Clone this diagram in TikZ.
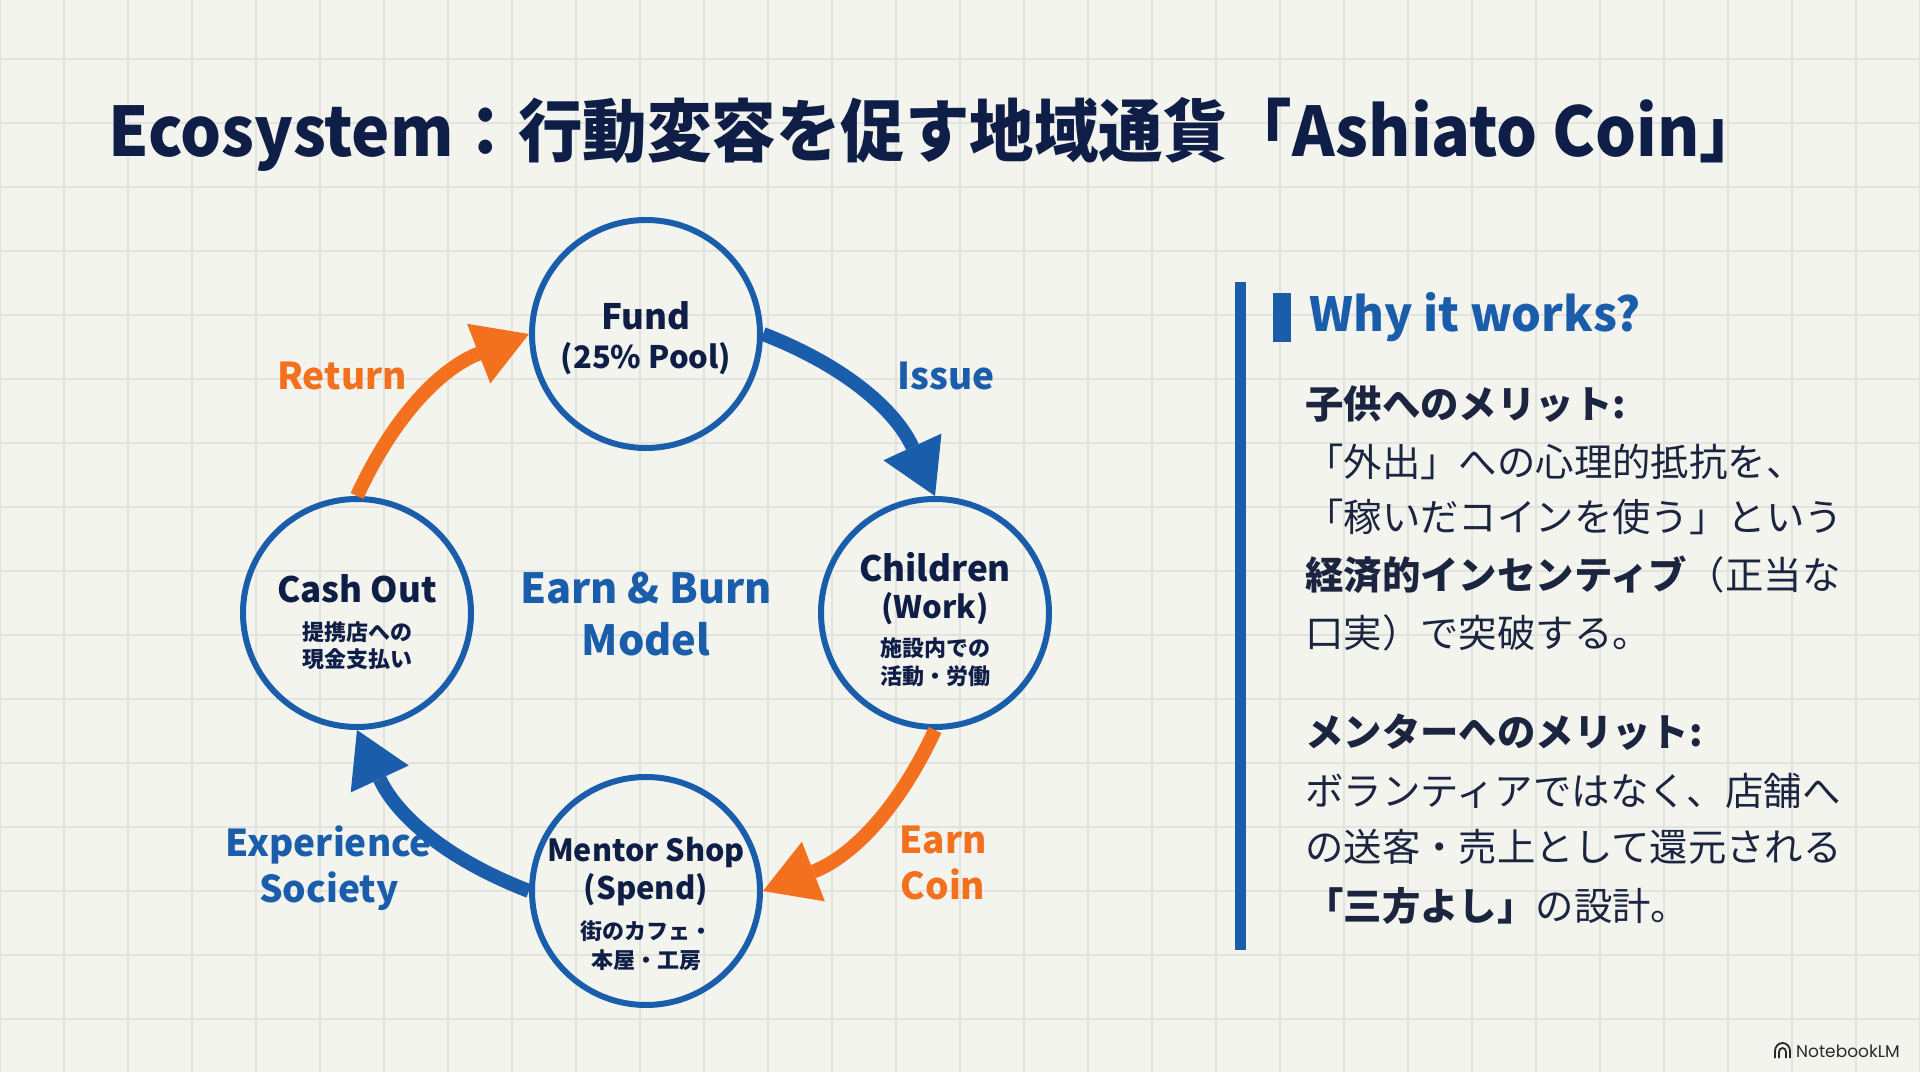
\documentclass[tikz,border=0pt]{standalone}
\usepackage{fontspec}
\setmainfont{Noto Sans CJK JP}
\newfontfamily\poppins{Poppins}
\usetikzlibrary{arrows.meta}
\definecolor{bg}{HTML}{F4F4EF}
\definecolor{gridc}{HTML}{E3E3DD}
\definecolor{navy}{HTML}{0F1E46}
\definecolor{ink}{HTML}{1B2540}
\definecolor{cblue}{HTML}{1A5EAB}
\definecolor{corange}{HTML}{F3701E}
\definecolor{logo}{HTML}{2A2A2A}
\tikzset{
  gridline/.style={draw=gridc, line width=1.6pt},
  circ/.style={circle, draw=cblue, line width=6pt, minimum size=228pt, inner sep=0pt},
  headtxt/.style={inner sep=0pt, text=navy, font=\fontsize{35}{41}\selectfont\bfseries},
  subtxt/.style={inner sep=0pt, text=navy, font=\fontsize{31}{37}\selectfont\bfseries},
  jptxt/.style={inner sep=0pt, text=navy, font=\fontsize{22}{26}\selectfont\bfseries},
  lblblue/.style={inner sep=0pt, text=cblue, font=\fontsize{37}{43}\selectfont\bfseries},
  lblorange/.style={inner sep=0pt, text=corange, font=\fontsize{37}{43}\selectfont\bfseries},
  flowblue/.style={draw=cblue, line width=14pt, -{Triangle[length=54pt,width=64pt,line width=0pt]}},
  floworange/.style={draw=corange, line width=14pt, -{Triangle[length=54pt,width=64pt,line width=0pt]}},
  body/.style={anchor=west, inner sep=0pt, text=ink, font=\fontsize{38.4}{46}\selectfont},
  bodyb/.style={body, font=\fontsize{38.4}{46}\selectfont\bfseries},
}
\begin{document}
\begin{tikzpicture}[x=1pt,y=1pt]
\fill[bg] (0,0) rectangle (1920,1072);
\useasboundingbox (0,0) rectangle (1920,1072);
\foreach \x in {0,64,...,1920} \draw[gridline] (\x,0) -- (\x,1072);
\foreach \y in {53,117,...,1013} \draw[gridline] (0,\y) -- (1920,\y);

% title
\node[anchor=base west, inner sep=0pt, text=navy, font=\fontsize{64.5}{76}\selectfont\bfseries] (title) at (108,915) {\scalebox{1}[1.06]{Ecosystem：行動変容を促す地域通貨「Ashiato Coin」}};

% circles
\node[circ] (fund) at (646,738) {};
\node[circ] (children) at (935,459) {};
\node[circ] (cash) at (357,459) {};
\node[circ] (mentor) at (646,181) {};

% circle texts
\node[headtxt] (fundA) at (646,756) {Fund};
\node[subtxt] (fundB) at (646,713) {(25\% Pool)};
\node[headtxt] (childA) at (935,505) {Children};
\node[subtxt] (childB) at (935,463) {(Work)};
\node[jptxt] (childC) at (935,424) {施設内での};
\node[jptxt] (childD) at (935,396) {活動・労働};
\node[headtxt] (cashA) at (357,483) {Cash Out};
\node[jptxt] (cashC) at (357,440) {提携店への};
\node[jptxt] (cashD) at (357,413) {現金支払い};
\node[subtxt, font=\fontsize{30.5}{36}\selectfont\bfseries] (mentA) at (646,220) {Mentor Shop};
\node[subtxt] (mentB) at (646,182) {(Spend)};
\node[jptxt] (mentC) at (646,141) {街のカフェ・};
\node[jptxt] (mentD) at (646,112) {本屋・工房};

% centre
\node[inner sep=0pt, text=cblue, font=\fontsize{41.5}{48}\selectfont\bfseries] (ebA) at (646,484) {Earn \& Burn};
\node[inner sep=0pt, text=cblue, font=\fontsize{41.5}{48}\selectfont\bfseries] (ebB) at (646,433) {Model};

% arrows
\draw[flowblue] (fund.east) to[bend left=22] (children.north);
\draw[floworange] (children.south) to[bend left=22] (mentor.east);
\draw[flowblue] (mentor.west) to[bend left=22] (cash.south);
\draw[floworange] (cash.north) to[bend left=22] (fund.west);

% labels
\node[lblorange] (lret) at (342,696) {Return};
\node[lblblue] (liss) at (946,696) {Issue};
\node[lblorange] (learn) at (943,232) {Earn};
\node[lblorange] (lcoin) at (943,188) {Coin};
\node[lblblue] (lexp) at (329,227) {Experience};
\node[lblblue] (lsoc) at (329,181) {Society};

% right panel
\fill[cblue] (1235,122) rectangle (1246,790);
\fill[cblue] (1273,730) rectangle (1291,779);
\node[anchor=west, inner sep=0pt, text=cblue, font=\fontsize{47}{54}\selectfont\bfseries] (why) at (1309,755) {Why it works?};

\node[bodyb] (l1) at (1305,668) {子供へのメリット:};
\node[body] (l2) at (1305,610) {「外出」への心理的抵抗を、};
\node[body] (l3) at (1305,555) {「稼いだコインを使う」という};
\node[body] (l4) at (1305,497) {\textbf{経済的インセンティブ}（正当な};
\node[body] (l5) at (1305,439) {口実）で突破する。};
\node[bodyb] (l6) at (1305,340) {メンターへのメリット:};
\node[body] (l7) at (1305,281) {ボランティアではなく、店舗へ};
\node[body] (l8) at (1305,225) {の送客・売上として還元される};
\node[body] (l9) at (1305,166) {\textbf{「三方よし」}の設計。};

% NotebookLM mark
\node[anchor=west, inner sep=0pt, text=logo, font=\fontsize{17}{20}\selectfont\poppins] (nblm) at (1796,21) {NotebookLM};
\draw[logo, line width=1.8pt] (1775,14) -- (1775,21) arc[start angle=180, end angle=0, x radius=7.5pt, y radius=8pt] -- (1790,14);
\draw[logo, line width=1.8pt] (1779,14) -- (1779,20) arc[start angle=180, end angle=0, x radius=3.5pt, y radius=4pt] -- (1786,14);
\end{tikzpicture}
\end{document}
